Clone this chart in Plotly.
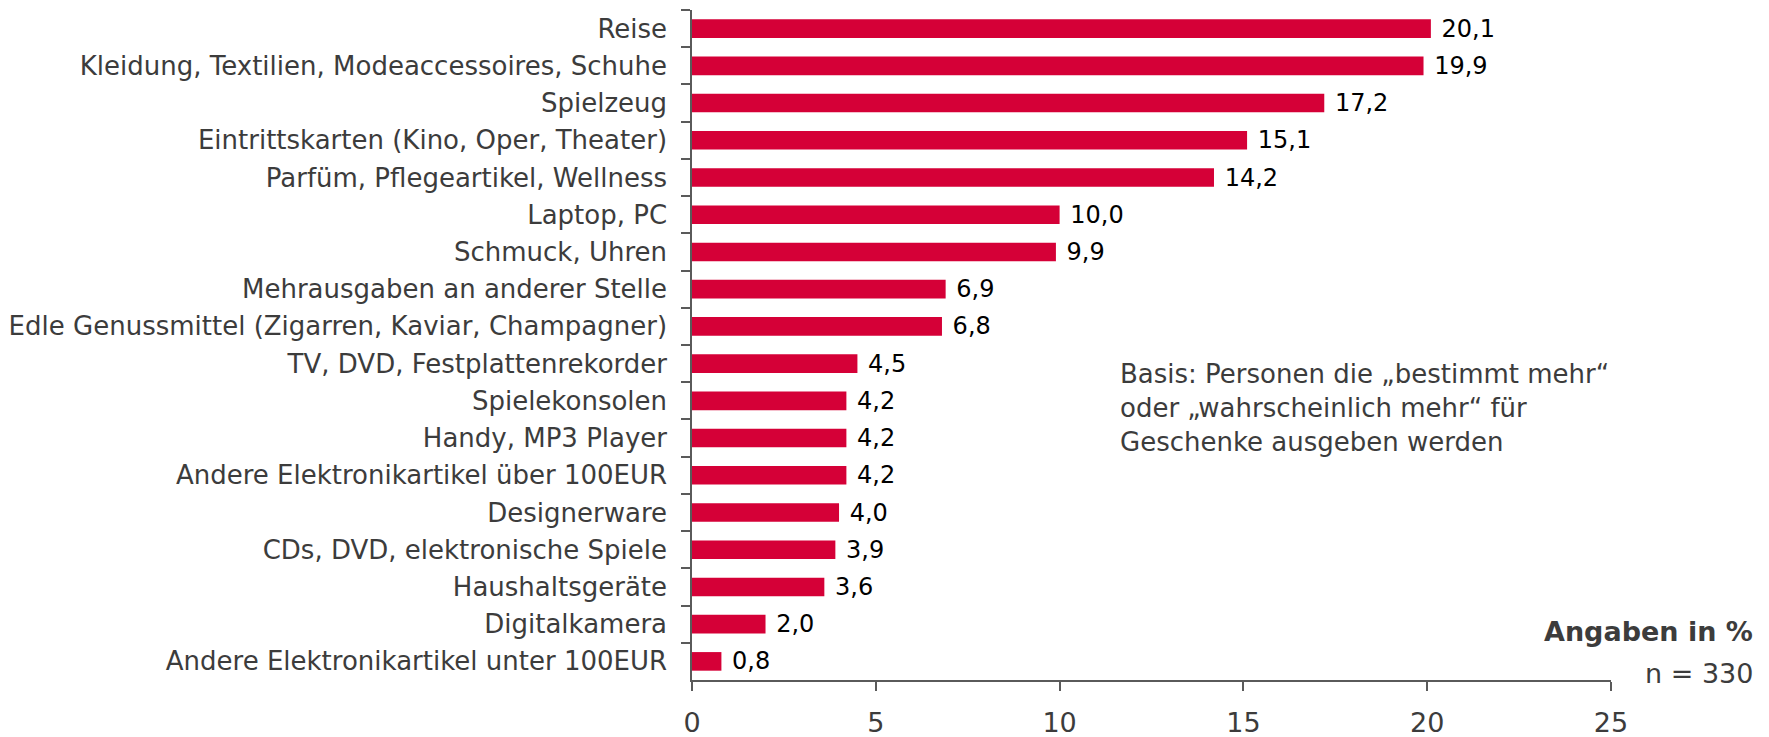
import plotly.graph_objects as go

categories = [
    "Reise",
    "Kleidung, Textilien, Modeaccessoires, Schuhe",
    "Spielzeug",
    "Eintrittskarten (Kino, Oper, Theater)",
    "Parfüm, Pflegeartikel, Wellness",
    "Laptop, PC",
    "Schmuck, Uhren",
    "Mehrausgaben an anderer Stelle",
    "Edle Genussmittel (Zigarren, Kaviar, Champagner)",
    "TV, DVD, Festplattenrekorder",
    "Spielekonsolen",
    "Handy, MP3 Player",
    "Andere Elektronikartikel über 100EUR",
    "Designerware",
    "CDs, DVD, elektronische Spiele",
    "Haushaltsgeräte",
    "Digitalkamera",
    "Andere Elektronikartikel unter 100EUR",
]
values = [20.1, 19.9, 17.2, 15.1, 14.2, 10.0, 9.9, 6.9, 6.8, 4.5, 4.2, 4.2, 4.2, 4.0, 3.9, 3.6, 2.0, 0.8]
x_ticks = [0, 5, 10, 15, 20, 25]

FONT = "DejaVu Sans"
GRAY = "#3c3c3c"
AXIS = "#5a5a5a"

fig = go.Figure(go.Bar(
    x=values,
    y=categories,
    orientation="h",
    marker=dict(color="#D50037", line=dict(width=0)),
    texttemplate=" %{x:.1f}",
    textposition="outside",
    constraintext="none",
    textfont=dict(family=FONT, size=24, color="#000000"),
    cliponaxis=False,
    width=0.5,
))

fig.update_layout(
    width=1769, height=737,
    margin=dict(l=684, r=166, t=2, b=65, autoexpand=False),
    paper_bgcolor="white", plot_bgcolor="white",
    separators=",.",
    showlegend=False,
    font=dict(family=FONT, color=GRAY),
    xaxis=dict(
        range=[0, 25], tickvals=x_ticks, ticktext=[str(v) for v in x_ticks],
        showgrid=False, zeroline=False, automargin=False,
        showline=True, linecolor=AXIS, linewidth=1.5,
        ticks="outside", ticklen=9, tickcolor=AXIS, tickwidth=1.5,
        tickfont=dict(family=FONT, size=27, color=GRAY),
        ticklabelstandoff=9,
    ),
    yaxis=dict(
        categoryorder="array", categoryarray=categories, autorange="reversed",
        showgrid=False, zeroline=False, automargin=False,
        showline=True, linecolor=AXIS, linewidth=1.5,
        ticks="outside", ticklen=9, tickcolor=AXIS, tickwidth=1.5,
        tickson="boundaries",
        tickfont=dict(family=FONT, size=26, color=GRAY),
        ticklabelstandoff=18,
    ),
    annotations=[
        dict(text="Basis: Personen die „bestimmt mehr“<br>oder „wahrscheinlich mehr“ für<br>Geschenke ausgeben werden",
             xref="x", yref="paper", x=11.6, y=0.406, xanchor="left", yanchor="middle",
             align="left", showarrow=False,
             font=dict(family=FONT, size=26, color=GRAY)),
        dict(text="<b>Angaben in %</b>", xref="paper", yref="paper", x=1.1567, y=0.073,
             xanchor="right", yanchor="middle", showarrow=False,
             font=dict(family=FONT, size=27, color=GRAY)),
        dict(text="n = 330", xref="paper", yref="paper", x=1.1567, y=0.0104,
             xanchor="right", yanchor="middle", showarrow=False,
             font=dict(family=FONT, size=27, color=GRAY)),
    ],
)

fig.write_html("out.html")
